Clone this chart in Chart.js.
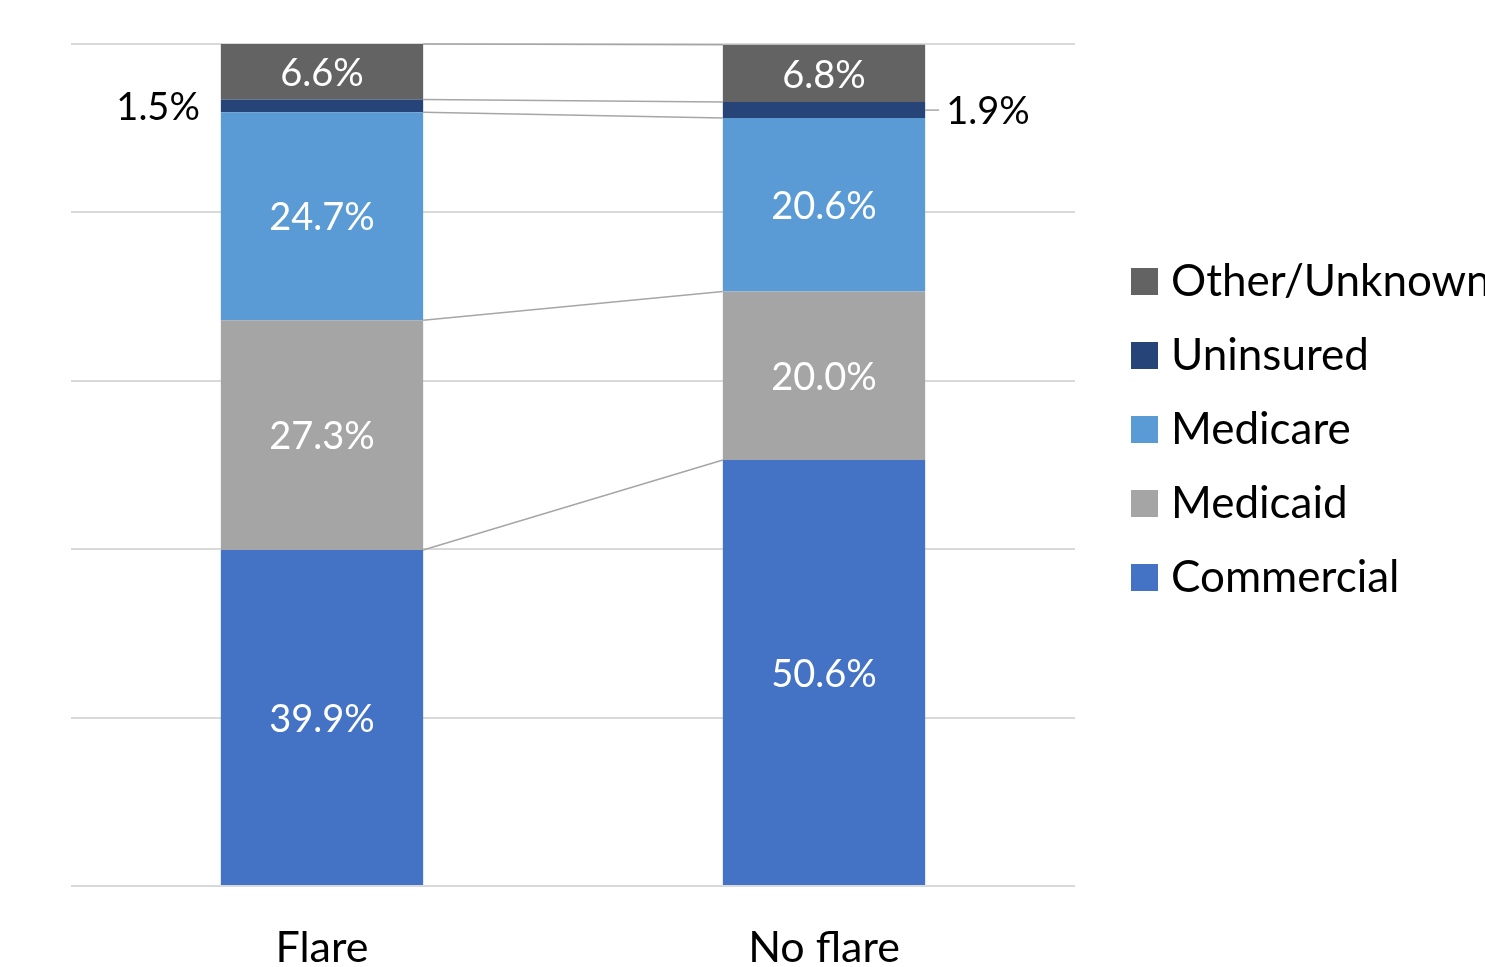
<!DOCTYPE html>
<html>
<head>
<meta charset="utf-8">
<script src="https://cdn.jsdelivr.net/npm/chart.js@4/dist/chart.umd.min.js"></script>
<style>
html,body{margin:0;padding:0;background:#fff;overflow:hidden;}
canvas{display:block;}
</style>
</head>
<body>
<canvas id="c" width="1485" height="967"></canvas>
<script>
const categories = ['Flare', 'No flare'];
const commercial = [39.9, 50.6];
const medicaid = [27.3, 20.0];
const medicare = [24.7, 20.6];
const uninsured = [1.5, 1.9];
const otherUnknown = [6.6, 6.8];
const seriesNames = ['Commercial', 'Medicaid', 'Medicare', 'Uninsured', 'Other/Unknown'];
const seriesColors = ['#4472C4', '#A5A5A5', '#5B9BD5', '#264478', '#636363'];
const yMax = 100;
const yStep = 20;

const FONT = 'Lato, "Open Sans", sans-serif';
const seriesData = [commercial, medicaid, medicare, uninsured, otherUnknown];

const datasets = seriesNames.map((name, i) => ({
  label: name,
  data: seriesData[i],
  backgroundColor: seriesColors[i],
  borderWidth: 0,
  barPercentage: 1,
  categoryPercentage: 0.403
}));

const connectorPlugin = {
  id: 'connectors',
  afterDatasetsDraw(chart) {
    const ctx = chart.ctx;
    ctx.save();
    ctx.strokeStyle = '#a6a6a6';
    ctx.lineWidth = 1.5;
    chart.data.datasets.forEach((ds, i) => {
      const meta = chart.getDatasetMeta(i);
      const a = meta.data[0], b = meta.data[1];
      ctx.beginPath();
      ctx.moveTo(a.x + a.width / 2, a.y);
      ctx.lineTo(b.x - b.width / 2, b.y);
      ctx.stroke();
    });
    ctx.restore();
  }
};

const labelPlugin = {
  id: 'valueLabels',
  afterDatasetsDraw(chart) {
    const ctx = chart.ctx;
    ctx.save();
    ctx.font = '38px ' + FONT;
    ctx.textBaseline = 'middle';
    chart.data.datasets.forEach((ds, i) => {
      const meta = chart.getDatasetMeta(i);
      meta.data.forEach((el, j) => {
        const v = ds.data[j];
        const txt = v.toFixed(1) + '%';
        const cy = (el.y + el.base) / 2;
        if (ds.label === 'Uninsured') {
          ctx.fillStyle = '#000';
          if (j === 0) {
            ctx.textAlign = 'right';
            ctx.fillText(txt, el.x - el.width / 2 - 21, cy + 2);
          } else {
            ctx.strokeStyle = '#a6a6a6';
            ctx.lineWidth = 1.5;
            ctx.beginPath();
            ctx.moveTo(el.x + el.width / 2, cy);
            ctx.lineTo(el.x + el.width / 2 + 14, cy);
            ctx.stroke();
            ctx.textAlign = 'left';
            ctx.fillText(txt, el.x + el.width / 2 + 21, cy + 2);
          }
        } else {
          ctx.fillStyle = '#fff';
          ctx.textAlign = 'center';
          ctx.fillText(txt, el.x, cy + 2);
        }
      });
    });
    ctx.restore();
  }
};

const legendPlugin = {
  id: 'customLegend',
  afterDraw(chart) {
    const ctx = chart.ctx;
    ctx.save();
    ctx.font = '44px ' + FONT;
    ctx.textBaseline = 'middle';
    ctx.textAlign = 'left';
    const n = chart.data.datasets.length;
    for (let k = 0; k < n; k++) {
      const ds = chart.data.datasets[n - 1 - k];
      const cy = 281 + k * 74;
      ctx.fillStyle = ds.backgroundColor;
      ctx.fillRect(1131, cy - 13, 27, 27);
      ctx.fillStyle = '#000';
      ctx.fillText(ds.label, 1171, cy + 1);
    }
    ctx.restore();
  }
};

new Chart(document.getElementById('c'), {
  type: 'bar',
  data: { labels: categories, datasets },
  options: {
    responsive: false,
    animation: false,
    layout: { padding: { left: 71, right: 410, top: 44, bottom: 0 } },
    plugins: { legend: { display: false }, tooltip: { enabled: false } },
    scales: {
      x: {
        stacked: true,
        grid: { display: false, drawTicks: false },
        border: { display: false },
        ticks: { color: '#000', font: { family: FONT, size: 43 }, padding: 36 },
        afterFit(s) { s.height = 81; }
      },
      y: {
        stacked: true,
        min: 0,
        max: yMax,
        ticks: { display: false, stepSize: yStep },
        grid: { color: '#d9d9d9', lineWidth: 2, drawTicks: false },
        border: { display: false },
        afterFit(s) { s.width = 0; }
      }
    }
  },
  plugins: [connectorPlugin, labelPlugin, legendPlugin]
});
</script>
</body>
</html>
